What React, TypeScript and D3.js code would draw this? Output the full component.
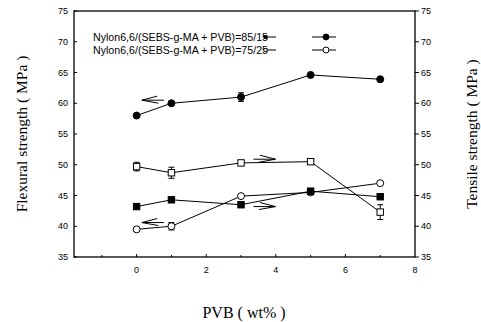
import * as d3 from 'd3';
import React, { useEffect, useRef } from 'react';

// PVB content (wt%)
const pvb = [0, 1, 3, 5, 7];

// Flexural strength, 85/15 (filled circles)
const flex8515 = [58.0, 60.0, 61.0, 64.6, 63.9];
const flex8515Err = [0, 0, 0.7, 0, 0];
// Flexural strength, 75/25 (open circles)
const flex7525 = [39.5, 40.0, 44.9, 45.5, 47.0];
const flex7525Err = [0, 0.6, 0, 0, 0];
// Tensile strength, 85/15 (filled squares)
const tens8515 = [43.2, 44.3, 43.5, 45.7, 44.8];
const tens8515Err = [0, 0, 0, 0, 0];
// Tensile strength, 75/25 (open squares)
const tens7525 = [49.7, 48.7, 50.3, 50.5, 42.3];
const tens7525Err = [0.7, 0.9, 0, 0, 1.2];

const xTicks = [0, 2, 4, 6, 8];
const yTicks = [35, 40, 45, 50, 55, 60, 65, 70, 75];
const legendLabels = ['Nylon6,6/(SEBS-g-MA + PVB)=85/15', 'Nylon6,6/(SEBS-g-MA + PVB)=75/25'];

// arrows: [x, y, direction]
const arrows: [number, number, number][] = [
  [0.15, 60.5, -1],
  [3.3, 50.9, 1],
  [3.3, 43.2, 1],
  [0.15, 40.6, -1],
];

const App: React.FC = () => {
  const svgRef = useRef<SVGSVGElement>(null);

  useEffect(() => {
    const svg = d3.select(svgRef.current).html('');
    const left = 74, right = 415, top = 11, bottom = 257;

    const x = d3.scaleLinear().domain([-1.8, 8]).range([left, right]);
    const y = d3.scaleLinear().domain([35, 75]).range([bottom, top]);

    // frame
    svg.append('rect')
      .attr('x', left).attr('y', top)
      .attr('width', right - left).attr('height', bottom - top)
      .attr('fill', 'none').attr('stroke', '#000').attr('stroke-width', 1.3);

    const tickFont = 'Arial, "Liberation Sans", sans-serif';

    // x ticks
    svg.append('g').selectAll('line').data(d3.range(-1, 8)).enter().append('line')
      .attr('x1', d => x(d)).attr('x2', d => x(d))
      .attr('y1', bottom).attr('y2', d => bottom - (d % 2 === 0 ? 3 : 2))
      .attr('stroke', '#000');
    svg.append('g').selectAll('text').data(xTicks).enter().append('text')
      .attr('x', d => x(d)).attr('y', 273)
      .attr('text-anchor', 'middle')
      .attr('font-family', tickFont).attr('font-size', 9)
      .text(d => d);

    // y ticks left and right
    svg.append('g').selectAll('line').data(yTicks).enter().append('line')
      .attr('x1', left).attr('x2', left + 3)
      .attr('y1', d => y(d)).attr('y2', d => y(d)).attr('stroke', '#000');
    svg.append('g').selectAll('line').data(yTicks).enter().append('line')
      .attr('x1', right).attr('x2', right + 4)
      .attr('y1', d => y(d)).attr('y2', d => y(d)).attr('stroke', '#000');
    svg.append('g').selectAll('text').data(yTicks).enter().append('text')
      .attr('x', 68).attr('y', d => y(d) + 3)
      .attr('text-anchor', 'end')
      .attr('font-family', tickFont).attr('font-size', 9)
      .text(d => d);
    svg.append('g').selectAll('text').data(yTicks).enter().append('text')
      .attr('x', 421).attr('y', d => y(d) + 3)
      .attr('text-anchor', 'start')
      .attr('font-family', tickFont).attr('font-size', 9)
      .text(d => d);

    const line = d3.line<[number, number]>().x(d => x(d[0])).y(d => y(d[1]));

    const series = [
      { vals: flex8515, err: flex8515Err, shape: 'circle', fill: '#000' },
      { vals: flex7525, err: flex7525Err, shape: 'circle', fill: '#fff' },
      { vals: tens8515, err: tens8515Err, shape: 'square', fill: '#000' },
      { vals: tens7525, err: tens7525Err, shape: 'square', fill: '#fff' },
    ];

    const drawMarker = (g: d3.Selection<SVGGElement, unknown, null, undefined>, cx: number, cy: number, shape: string, fill: string) => {
      if (shape === 'circle') {
        g.append('circle').attr('cx', cx).attr('cy', cy).attr('r', 3.5)
          .attr('fill', fill).attr('stroke', '#000').attr('stroke-width', 1);
      } else {
        g.append('rect').attr('x', cx - 3.2).attr('y', cy - 3.2)
          .attr('width', 6.4).attr('height', 6.4)
          .attr('fill', fill).attr('stroke', '#000').attr('stroke-width', 1);
      }
    };

    series.forEach(s => {
      const g = svg.append('g');
      const pts = pvb.map((p, i) => [p, s.vals[i]] as [number, number]);
      g.append('path').attr('d', line(pts)!)
        .attr('fill', 'none').attr('stroke', '#000').attr('stroke-width', 1);
      pvb.forEach((p, i) => {
        const e = s.err[i];
        if (e > 0) {
          const cx = x(p);
          g.append('line').attr('x1', cx).attr('x2', cx)
            .attr('y1', y(s.vals[i] - e)).attr('y2', y(s.vals[i] + e)).attr('stroke', '#000');
          [s.vals[i] - e, s.vals[i] + e].forEach(v => {
            g.append('line').attr('x1', cx - 3).attr('x2', cx + 3)
              .attr('y1', y(v)).attr('y2', y(v)).attr('stroke', '#000');
          });
        }
      });
      pvb.forEach((p, i) => drawMarker(g, x(p), y(s.vals[i]), s.shape, s.fill));
    });

    // arrows
    arrows.forEach(([ax, ay, dir]) => {
      const tx = dir < 0 ? x(ax) : x(ax) + 24;
      const ty = y(ay);
      const len = 22 * -dir;
      const g = svg.append('g').attr('stroke', '#000').attr('fill', 'none').attr('stroke-width', 1);
      g.append('line').attr('x1', tx).attr('y1', ty).attr('x2', tx + len).attr('y2', ty);
      g.append('line').attr('x1', tx).attr('y1', ty).attr('x2', tx + len * 0.7).attr('y2', ty - 4);
      g.append('line').attr('x1', tx).attr('y1', ty).attr('x2', tx + len * 0.75).attr('y2', ty + 3);
    });

    // legend
    legendLabels.forEach((lab, i) => {
      const ly = 37 + i * 13;
      svg.append('text').attr('x', 93).attr('y', ly + 4)
        .attr('font-family', tickFont).attr('font-size', 10.5)
        .attr('textLength', 175).attr('lengthAdjust', 'spacingAndGlyphs')
        .text(lab);
      const fill = i === 0 ? '#000' : '#fff';
      const g = svg.append('g');
      g.append('line').attr('x1', 265).attr('x2', 276).attr('y1', ly).attr('y2', ly).attr('stroke', '#000');
      g.append('line').attr('x1', 312).attr('x2', 336).attr('y1', ly).attr('y2', ly).attr('stroke', '#000');
      g.append('rect').attr('x', 264).attr('y', ly - 1.5).attr('width', 3).attr('height', 3).attr('fill', fill).attr('stroke', '#000').attr('stroke-width', 0.8);
      g.append('circle').attr('cx', 326).attr('cy', ly).attr('r', 3).attr('fill', fill).attr('stroke', '#000');
    });

    const serif = '"Times New Roman", "Liberation Serif", serif';
    svg.append('text')
      .attr('transform', `translate(27,134) rotate(-90)`)
      .attr('text-anchor', 'middle').attr('font-family', serif).attr('font-size', 15.5)
      .text('Flexural strength ( MPa )');
    svg.append('text')
      .attr('transform', `translate(477,134) rotate(-90)`)
      .attr('text-anchor', 'middle').attr('font-family', serif).attr('font-size', 15.5)
      .text('Tensile strength ( MPa )');
    svg.append('text')
      .attr('x', 244).attr('y', 318)
      .attr('text-anchor', 'middle').attr('font-family', serif).attr('font-size', 16)
      .text('PVB ( wt% )');
  }, []);

  return (
    <svg ref={svgRef} width={481} height={322}
      style={{ position: 'absolute', left: 0, top: 0, background: '#fff' }} />
  );
};

export default App;
